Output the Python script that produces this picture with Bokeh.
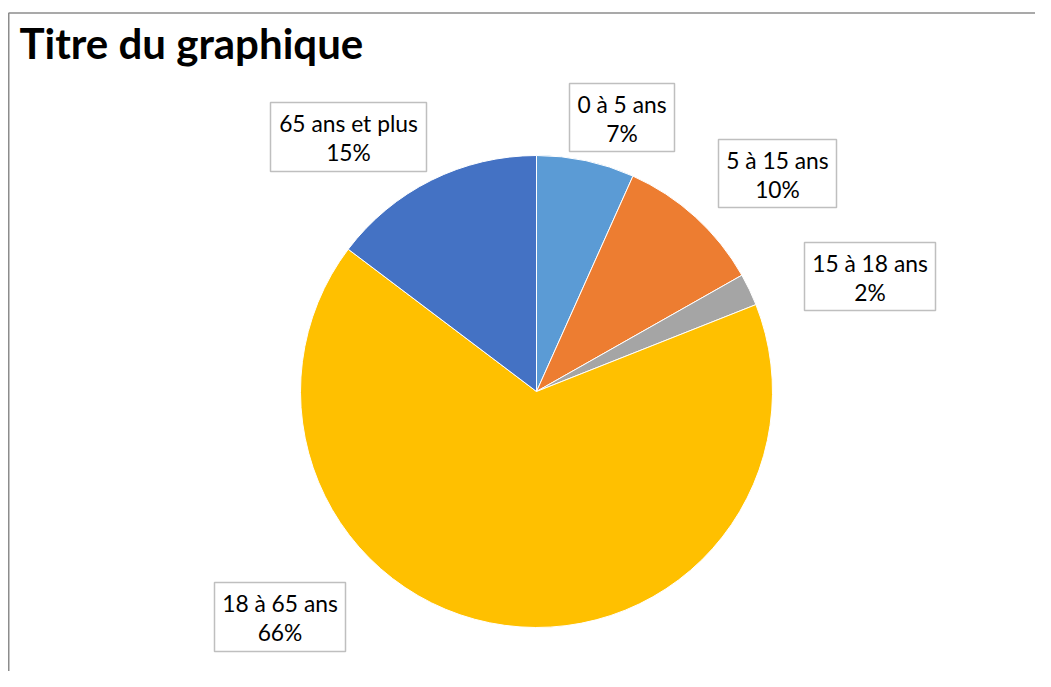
import math
from bokeh.plotting import figure
from bokeh.models import Range1d, ColumnDataSource
from bokeh.core.properties import value
from bokeh.embed import file_html
from bokeh.resources import INLINE

# ---- data ----
categories = ["0 à 5 ans", "5 à 15 ans", "15 à 18 ans", "18 à 65 ans", "65 ans et plus"]
shares = [6.7, 10.1, 2.2, 66.3, 14.7]
colors = ["#5B9BD5", "#ED7D31", "#A5A5A5", "#FFC000", "#4472C4"]
title_text = "Titre du graphique"

# ---- layout (page pixel coordinates) ----
W, H = 1035, 671
PAGE_OFF = 0
pie_center = (536, 391)
pie_radius = 236
# label box centres and sizes (page px)
box_cx = [621.5, 777, 869.5, 279.5, 348]
box_cy = [117, 173, 276, 616.5, 136.5]
box_w = [105, 118, 131, 131, 156]
box_h = [68, 68, 68, 69, 69]


def fx(sx):
    return sx - PAGE_OFF


def fy(sy):
    return H - (sy - PAGE_OFF)


p = figure(width=W, height=H, x_range=Range1d(0, W), y_range=Range1d(0, H),
           x_axis_type=None, y_axis_type=None, tools="", toolbar_location=None,
           min_border=0, output_backend="svg")
p.outline_line_color = None
p.background_fill_color = "white"
p.border_fill_color = "white"

# chart frame (top and left edges visible)
p.line([fx(8), fx(1100)], [fy(12.5), fy(12.5)], line_color="#8C8C8C", line_width=1.5)
p.line([fx(8.25), fx(8.25)], [fy(12.5), fy(700)], line_color="#8C8C8C", line_width=1.5)

# pie wedges
total = sum(shares)
starts, ends = [], []
cum = 0.0
for s in shares:
    starts.append(math.pi / 2 - 2 * math.pi * cum / total)
    cum += s
    ends.append(math.pi / 2 - 2 * math.pi * cum / total)

wsrc = ColumnDataSource(dict(start=starts, end=ends, color=colors))
p.wedge(x=fx(pie_center[0]), y=fy(pie_center[1]), radius=pie_radius,
        start_angle="start", end_angle="end", direction="clock",
        fill_color="color", line_color="white", line_width=1, source=wsrc)

# labels
pct = [f"{round(s)}%" for s in shares]
lsrc = ColumnDataSource(dict(
    x=[fx(v) for v in box_cx],
    y=[fy(v) for v in box_cy],
    w=box_w, h=box_h,
    y1=[fy(v - 14) for v in box_cy],
    y2=[fy(v + 15) for v in box_cy],
    name=categories, pct=pct,
))
p.rect(x="x", y="y", width="w", height="h", fill_color="white",
       line_color="#BFBFBF", line_width=1.5, source=lsrc)
p.text(x="x", y="y1", text="name", text_align="center", text_baseline="alphabetic",
       text_font=value("Lato"), text_font_size="22.8px", text_color="#000000", source=lsrc)
p.text(x="x", y="y2", text="pct", text_align="center", text_baseline="alphabetic",
       text_font=value("Lato"), text_font_size="22.8px", text_color="#000000", source=lsrc)

# title
p.text(x=[fx(19)], y=[fy(42)], text=[title_text], text_align="left",
       text_baseline="alphabetic", text_font=value("Lato"), text_font_style="bold",
       text_font_size="42px", text_color="#000000")

open("out.html", "w").write(file_html(p, INLINE))
